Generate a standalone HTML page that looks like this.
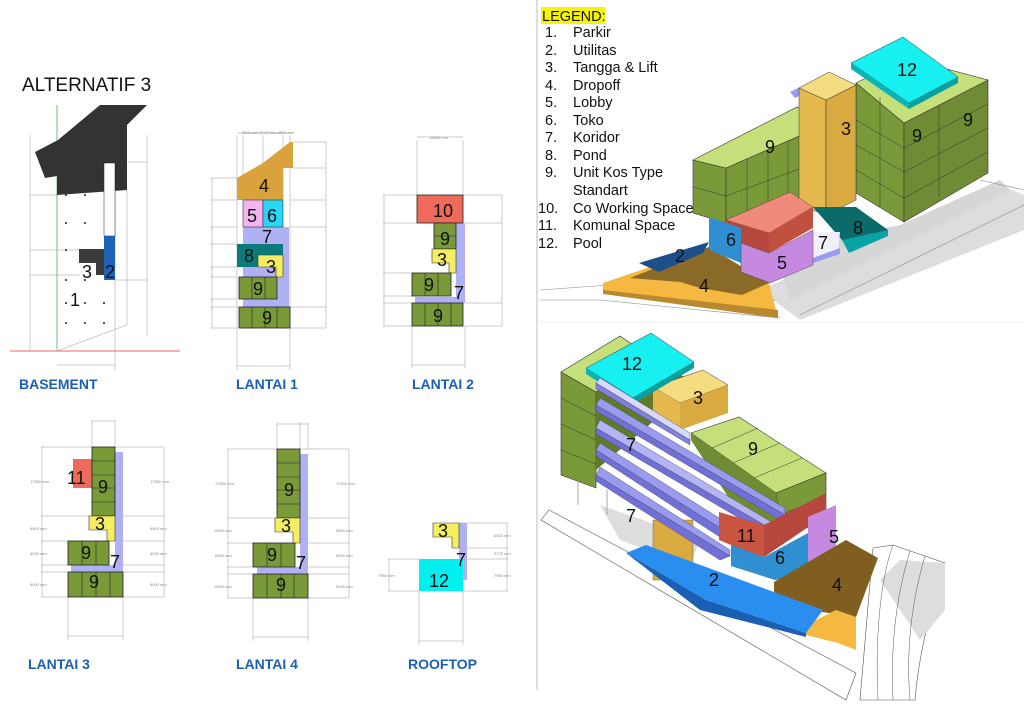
<!DOCTYPE html>
<html><head><meta charset="utf-8"><style>
html,body{margin:0;padding:0;background:#fff;}
svg{display:block;}
text{font-family:"Liberation Sans",Arial,sans-serif;}
.n{font-size:18px;fill:#111;}
.t{font-size:14px;font-weight:bold;fill:#1a5fb4;}
.d{font-size:4px;fill:#888;}
.lg{font-size:14.5px;fill:#111;}
</style></head><body>
<svg width="1024" height="707" viewBox="0 0 1024 707" xmlns="http://www.w3.org/2000/svg">
<rect width="1024" height="707" fill="#fff"/>
<text x="22" y="91" style="font-size:19px;fill:#111">ALTERNATIF 3</text>

<!-- BASEMENT -->
<g stroke="#999" stroke-width="0.5" fill="none">
<line x1="30" y1="135" x2="30" y2="350"/><line x1="147" y1="135" x2="147" y2="336"/>
<line x1="57" y1="365" x2="115" y2="365"/><line x1="115" y1="105" x2="115" y2="370"/>
<line x1="30" y1="195" x2="57" y2="195"/><line x1="30" y1="250" x2="80" y2="250"/><line x1="30" y1="275" x2="80" y2="275"/>
<line x1="115" y1="280" x2="147" y2="280"/><line x1="127" y1="162" x2="147" y2="162"/>
<line x1="57" y1="351" x2="127" y2="325"/><line x1="127" y1="190" x2="127" y2="325"/>
</g>
<line x1="57" y1="105" x2="57" y2="350" stroke="#4caf50" stroke-width="0.8"/>
<line x1="10" y1="351" x2="180" y2="351" stroke="#e53935" stroke-width="0.8"/>
<polygon points="35,152 58,140 100,105 147,105 127,125 127,190 57,195 57,176 45,178" fill="#333"/>
<rect x="104" y="163" width="11" height="73" fill="#fff" stroke="#222" stroke-width="0.5"/>
<rect x="104" y="236" width="11" height="44" fill="#1e63b8"/>
<rect x="79" y="249" width="25" height="14" fill="#3a3a3a"/><rect x="96" y="263" width="8" height="12" fill="#3a3a3a"/>
<g fill="#222"><circle cx="66" cy="195" r="1"/><circle cx="85" cy="195" r="1"/><circle cx="66" cy="223" r="1"/><circle cx="85" cy="223" r="1"/><circle cx="66" cy="250" r="1"/><circle cx="66" cy="280" r="1"/><circle cx="85" cy="280" r="1"/><circle cx="66" cy="303" r="1"/><circle cx="85" cy="303" r="1"/><circle cx="104" cy="303" r="1"/><circle cx="66" cy="323" r="1"/><circle cx="85" cy="323" r="1"/><circle cx="104" cy="323" r="1"/></g>
<text x="82" y="278" class="n">3</text><text x="105" y="278" class="n">2</text><text x="70" y="306" class="n">1</text>
<text x="19" y="389" class="t">BASEMENT</text>

<!-- LANTAI 1 -->
<g stroke="#999" stroke-width="0.5" fill="none">
<line x1="210" y1="178" x2="237" y2="178"/><line x1="210" y1="200" x2="237" y2="200"/><line x1="210" y1="227" x2="237" y2="227"/><line x1="210" y1="244" x2="237" y2="244"/><line x1="210" y1="267" x2="237" y2="267"/><line x1="210" y1="277" x2="237" y2="277"/><line x1="210" y1="299" x2="237" y2="299"/><line x1="210" y1="307" x2="237" y2="307"/><line x1="210" y1="328" x2="237" y2="328"/>
<line x1="212" y1="178" x2="212" y2="328"/><line x1="326" y1="142" x2="326" y2="328"/>
<line x1="293" y1="142" x2="326" y2="142"/><line x1="293" y1="168" x2="326" y2="168"/><line x1="290" y1="200" x2="326" y2="200"/><line x1="290" y1="227" x2="326" y2="227"/><line x1="290" y1="307" x2="326" y2="307"/><line x1="290" y1="328" x2="326" y2="328"/>
<line x1="237" y1="135" x2="237" y2="370"/><line x1="290" y1="135" x2="290" y2="370"/><line x1="243" y1="135" x2="243" y2="200"/><line x1="263" y1="135" x2="263" y2="200"/><line x1="283" y1="135" x2="283" y2="200"/>
<line x1="237" y1="366" x2="290" y2="366"/><line x1="237" y1="133" x2="290" y2="133"/>
</g>
<text x="242" y="134" class="d">3500 mm 6700 mm 8500 mm</text>
<polygon points="237,178 263,163 290,142 293,142 293,168 283,168 283,200 237,200" fill="#d9a23c"/>
<rect x="243" y="227" width="46" height="101" fill="#b0b0f4"/>
<rect x="243" y="200" width="20" height="27" fill="#f4b4ef" stroke="#333" stroke-width="0.6"/>
<rect x="263" y="200" width="20" height="27" fill="#27d7f5" stroke="#333" stroke-width="0.6"/>
<rect x="237" y="244" width="46" height="23" fill="#0a7a7a"/>
<path d="M258,255 H283 V277 H276 V267 H258 Z" fill="#f5ee62" stroke="#333" stroke-width="0.6"/>
<g fill="#7a9a3a" stroke="#222" stroke-width="0.8"><rect x="239" y="277" width="38" height="22"/><rect x="239" y="307" width="51" height="21"/></g>
<g stroke="#222" stroke-width="0.6"><line x1="252" y1="277" x2="252" y2="299"/><line x1="265" y1="277" x2="265" y2="299"/><line x1="252" y1="307" x2="252" y2="328"/><line x1="265" y1="307" x2="265" y2="328"/><line x1="277" y1="307" x2="277" y2="328"/></g>
<text x="259" y="192" class="n">4</text><text x="247" y="222" class="n">5</text><text x="267" y="222" class="n">6</text><text x="262" y="243" class="n">7</text><text x="244" y="262" class="n">8</text><text x="266" y="273" class="n">3</text><text x="253" y="295" class="n">9</text><text x="262" y="324" class="n">9</text>
<text x="236" y="389" class="t">LANTAI 1</text>

<!-- LANTAI 2 -->
<g stroke="#999" stroke-width="0.5" fill="none">
<line x1="383" y1="195" x2="417" y2="195"/><line x1="383" y1="223" x2="417" y2="223"/><line x1="383" y1="273" x2="412" y2="273"/><line x1="383" y1="296" x2="412" y2="296"/><line x1="383" y1="303" x2="412" y2="303"/><line x1="383" y1="326" x2="412" y2="326"/>
<line x1="384" y1="195" x2="384" y2="326"/><line x1="502" y1="195" x2="502" y2="326"/>
<line x1="463" y1="195" x2="502" y2="195"/><line x1="465" y1="223" x2="502" y2="223"/><line x1="465" y1="303" x2="502" y2="303"/><line x1="465" y1="326" x2="502" y2="326"/>
<line x1="417" y1="140" x2="417" y2="195"/><line x1="463" y1="140" x2="463" y2="195"/><line x1="417" y1="137" x2="463" y2="137"/>
<line x1="412" y1="326" x2="412" y2="368"/><line x1="465" y1="326" x2="465" y2="368"/><line x1="412" y1="365" x2="465" y2="365"/>
</g>
<text x="429" y="139" class="d">12500 mm</text>
<path d="M456,223 H465 V303 H415 V297 H456 Z" fill="#b0b0f4"/>
<rect x="417" y="195" width="46" height="28" fill="#ee6a5a" stroke="#222" stroke-width="0.8"/>
<rect x="434" y="223" width="22" height="26" fill="#7a9a3a" stroke="#222" stroke-width="0.8"/>
<line x1="434" y1="236" x2="456" y2="236" stroke="#222" stroke-width="0.6"/>
<path d="M432,249 H456 V273 H449 V263 H432 Z" fill="#f5ee62" stroke="#333" stroke-width="0.6"/>
<g fill="#7a9a3a" stroke="#222" stroke-width="0.8"><rect x="412" y="273" width="39" height="23"/><rect x="412" y="303" width="51" height="23"/></g>
<g stroke="#222" stroke-width="0.6"><line x1="425" y1="273" x2="425" y2="296"/><line x1="438" y1="273" x2="438" y2="296"/><line x1="425" y1="303" x2="425" y2="326"/><line x1="438" y1="303" x2="438" y2="326"/><line x1="451" y1="303" x2="451" y2="326"/></g>
<text x="433" y="217" class="n">10</text><text x="440" y="245" class="n">9</text><text x="437" y="266" class="n">3</text><text x="424" y="291" class="n">9</text><text x="454" y="299" class="n">7</text><text x="433" y="322" class="n">9</text>
<text x="412" y="389" class="t">LANTAI 2</text>

<!-- LANTAI 3 -->
<g stroke="#999" stroke-width="0.5" fill="none">
<line x1="41" y1="447" x2="92" y2="447"/><line x1="41" y1="516" x2="92" y2="516"/><line x1="41" y1="541" x2="68" y2="541"/><line x1="41" y1="565" x2="68" y2="565"/><line x1="41" y1="572" x2="68" y2="572"/><line x1="41" y1="597" x2="68" y2="597"/>
<line x1="42" y1="447" x2="42" y2="597"/><line x1="164" y1="447" x2="164" y2="597"/>
<line x1="115" y1="447" x2="164" y2="447"/><line x1="123" y1="516" x2="164" y2="516"/><line x1="123" y1="541" x2="164" y2="541"/><line x1="123" y1="565" x2="164" y2="565"/><line x1="123" y1="572" x2="164" y2="572"/><line x1="123" y1="597" x2="164" y2="597"/>
<line x1="92" y1="420" x2="92" y2="447"/><line x1="115" y1="420" x2="115" y2="447"/><line x1="92" y1="421" x2="115" y2="421"/>
<line x1="68" y1="597" x2="68" y2="640"/><line x1="123" y1="597" x2="123" y2="640"/><line x1="68" y1="636" x2="123" y2="636"/>
</g>
<text x="30" y="483" class="d">17500 mm</text><text x="150" y="483" class="d">17500 mm</text><text x="30" y="530" class="d">6500 mm</text><text x="150" y="530" class="d">6500 mm</text><text x="30" y="555" class="d">6000 mm</text><text x="150" y="555" class="d">6000 mm</text><text x="30" y="586" class="d">6000 mm</text><text x="150" y="586" class="d">6000 mm</text>
<path d="M115,452 H123 V572 H71 V565 H115 Z" fill="#b0b0f4"/>
<rect x="73" y="459" width="19" height="29" fill="#ee6a5a"/>
<rect x="92" y="447" width="23" height="69" fill="#7a9a3a" stroke="#222" stroke-width="0.8"/>
<g stroke="#222" stroke-width="0.6"><line x1="92" y1="461" x2="115" y2="461"/><line x1="92" y1="475" x2="115" y2="475"/><line x1="92" y1="488" x2="115" y2="488"/><line x1="92" y1="502" x2="115" y2="502"/></g>
<path d="M89,516 H115 V541 H107 V530 H89 Z" fill="#f5ee62" stroke="#333" stroke-width="0.6"/>
<g fill="#7a9a3a" stroke="#222" stroke-width="0.8"><rect x="68" y="541" width="41" height="24"/><rect x="68" y="572" width="55" height="25"/></g>
<g stroke="#222" stroke-width="0.6"><line x1="82" y1="541" x2="82" y2="565"/><line x1="96" y1="541" x2="96" y2="565"/><line x1="82" y1="572" x2="82" y2="597"/><line x1="96" y1="572" x2="96" y2="597"/><line x1="110" y1="572" x2="110" y2="597"/></g>
<text x="67" y="484" class="n">11</text><text x="98" y="493" class="n">9</text><text x="95" y="530" class="n">3</text><text x="81" y="559" class="n">9</text><text x="110" y="568" class="n">7</text><text x="89" y="588" class="n">9</text>
<text x="28" y="669" class="t">LANTAI 3</text>

<!-- LANTAI 4 -->
<g stroke="#999" stroke-width="0.5" fill="none">
<line x1="227" y1="449" x2="277" y2="449"/><line x1="227" y1="518" x2="275" y2="518"/><line x1="227" y1="543" x2="253" y2="543"/><line x1="227" y1="567" x2="253" y2="567"/><line x1="227" y1="574" x2="253" y2="574"/><line x1="227" y1="598" x2="253" y2="598"/>
<line x1="228" y1="449" x2="228" y2="598"/><line x1="349" y1="449" x2="349" y2="598"/>
<line x1="300" y1="449" x2="349" y2="449"/><line x1="308" y1="518" x2="349" y2="518"/><line x1="308" y1="543" x2="349" y2="543"/><line x1="308" y1="567" x2="349" y2="567"/><line x1="308" y1="574" x2="349" y2="574"/><line x1="308" y1="598" x2="349" y2="598"/>
<line x1="277" y1="422" x2="277" y2="449"/><line x1="300" y1="422" x2="300" y2="449"/><line x1="308" y1="422" x2="308" y2="449"/><line x1="277" y1="424" x2="308" y2="424"/>
<line x1="253" y1="598" x2="253" y2="641"/><line x1="308" y1="598" x2="308" y2="641"/><line x1="253" y1="637" x2="308" y2="637"/>
</g>
<text x="215" y="485" class="d">17500 mm</text><text x="336" y="485" class="d">17500 mm</text><text x="215" y="532" class="d">6500 mm</text><text x="336" y="532" class="d">6500 mm</text><text x="215" y="557" class="d">6000 mm</text><text x="336" y="557" class="d">6000 mm</text><text x="215" y="588" class="d">6000 mm</text><text x="336" y="588" class="d">6000 mm</text>
<path d="M300,454 H308 V574 H257 V567 H300 Z" fill="#b0b0f4"/>
<rect x="277" y="449" width="23" height="69" fill="#7a9a3a" stroke="#222" stroke-width="0.8"/>
<g stroke="#222" stroke-width="0.6"><line x1="277" y1="463" x2="300" y2="463"/><line x1="277" y1="477" x2="300" y2="477"/><line x1="277" y1="490" x2="300" y2="490"/><line x1="277" y1="504" x2="300" y2="504"/></g>
<path d="M275,518 H300 V543 H293 V532 H275 Z" fill="#f5ee62" stroke="#333" stroke-width="0.6"/>
<g fill="#7a9a3a" stroke="#222" stroke-width="0.8"><rect x="253" y="543" width="42" height="24"/><rect x="253" y="574" width="55" height="24"/></g>
<g stroke="#222" stroke-width="0.6"><line x1="267" y1="543" x2="267" y2="567"/><line x1="281" y1="543" x2="281" y2="567"/><line x1="267" y1="574" x2="267" y2="598"/><line x1="281" y1="574" x2="281" y2="598"/><line x1="294" y1="574" x2="294" y2="598"/></g>
<text x="284" y="496" class="n">9</text><text x="281" y="532" class="n">3</text><text x="267" y="561" class="n">9</text><text x="296" y="569" class="n">7</text><text x="276" y="591" class="n">9</text>
<text x="236" y="669" class="t">LANTAI 4</text>

<!-- ROOFTOP -->
<g stroke="#999" stroke-width="0.5" fill="none">
<line x1="459" y1="523" x2="508" y2="523"/><line x1="459" y1="548" x2="508" y2="548"/><line x1="463" y1="559" x2="508" y2="559"/><line x1="463" y1="591" x2="508" y2="591"/><line x1="507" y1="523" x2="507" y2="591"/>
<line x1="388" y1="559" x2="419" y2="559"/><line x1="388" y1="591" x2="419" y2="591"/><line x1="389" y1="559" x2="389" y2="591"/>
<line x1="419" y1="591" x2="419" y2="645"/><line x1="463" y1="591" x2="463" y2="645"/><line x1="419" y1="641" x2="463" y2="641"/>
</g>
<text x="494" y="537" class="d">6500 mm</text><text x="494" y="555" class="d">2775 mm</text><text x="494" y="577" class="d">7950 mm</text><text x="378" y="577" class="d">7950 mm</text>
<rect x="459" y="523" width="8" height="57" fill="#b0b0f4"/>
<path d="M433,523 H459 V548 H452 V537 H433 Z" fill="#f5ee62" stroke="#333" stroke-width="0.6"/>
<rect x="419" y="559" width="44" height="32" fill="#00f0f0"/>
<text x="438" y="537" class="n">3</text><text x="456" y="566" class="n">7</text><text x="429" y="587" class="n">12</text>
<text x="408" y="669" class="t">ROOFTOP</text>

<!-- divider -->
<line x1="537" y1="0" x2="537" y2="690" stroke="#bbb" stroke-width="1"/>
<line x1="537" y1="322" x2="1024" y2="322" stroke="#eee" stroke-width="1"/>

<!-- LEGEND -->
<rect x="541" y="7" width="64" height="17" fill="#f5f500"/>
<text x="542" y="21" class="lg">LEGEND:</text>
<g class="lg">
<text x="545" y="37" class="lg">1.</text><text x="573" y="37" class="lg">Parkir</text>
<text x="545" y="55" class="lg">2.</text><text x="573" y="55" class="lg">Utilitas</text>
<text x="545" y="72" class="lg">3.</text><text x="573" y="72" class="lg">Tangga &amp; Lift</text>
<text x="545" y="90" class="lg">4.</text><text x="573" y="90" class="lg">Dropoff</text>
<text x="545" y="107" class="lg">5.</text><text x="573" y="107" class="lg">Lobby</text>
<text x="545" y="125" class="lg">6.</text><text x="573" y="125" class="lg">Toko</text>
<text x="545" y="142" class="lg">7.</text><text x="573" y="142" class="lg">Koridor</text>
<text x="545" y="160" class="lg">8.</text><text x="573" y="160" class="lg">Pond</text>
<text x="545" y="177" class="lg">9.</text><text x="573" y="177" class="lg">Unit Kos Type</text>
<text x="573" y="195" class="lg">Standart</text>
<text x="538" y="213" class="lg">10.</text><text x="573" y="213" class="lg">Co Working Space</text>
<text x="538" y="230" class="lg">11.</text><text x="573" y="230" class="lg">Komunal Space</text>
<text x="538" y="248" class="lg">12.</text><text x="573" y="248" class="lg">Pool</text>
</g>

<!-- TOP ISO -->
<polygon points="760,290 1000,185 1024,195 1024,230 800,320" fill="#ddd"/>
<polygon points="775,250 900,225 1000,180 1010,190 790,300" fill="#d6d6d6"/>
<g stroke="#888" stroke-width="0.6" fill="none"><path d="M540,290 L610,285 L775,300"/><path d="M540,300 L600,300 L780,318"/><path d="M800,315 L1024,205"/><path d="M980,180 L1024,190"/></g>
<polygon points="603,283 709,247 769,283 778,318 603,293" fill="#f5b942"/>
<polygon points="630,278 709,247 769,283 742,295 700,288 680,282" fill="#8a6a28"/>
<polygon points="603,290 778,310 778,318 603,294" fill="#b8892e"/>
<polygon points="639,263 709,242 703,253 659,272" fill="#1d4f8a"/>
<polygon points="856,83 904,123 904,222 856,193" fill="#7a9a3a" stroke="#333" stroke-width="0.6"/>
<polygon points="904,123 988,80 988,173 904,222" fill="#6f8c34" stroke="#333" stroke-width="0.6"/>
<polygon points="856,83 905,58 988,80 904,123" fill="#c5e07a" stroke="#333" stroke-width="0.6"/>
<g stroke="#333" stroke-width="0.5"><line x1="856" y1="120" x2="904" y2="148"/><line x1="856" y1="145" x2="904" y2="172"/><line x1="856" y1="170" x2="904" y2="198"/><line x1="904" y1="148" x2="988" y2="104"/><line x1="904" y1="172" x2="988" y2="128"/><line x1="904" y1="198" x2="988" y2="152"/><line x1="880" y1="97" x2="880" y2="207"/><line x1="939" y1="105" x2="939" y2="197"/></g>
<polygon points="851,63 903,37 958,77 909,103" fill="#16f0f0" stroke="#333" stroke-width="0.5"/>
<polygon points="851,63 909,103 909,109 851,69" fill="#0bb5b5"/><polygon points="909,103 958,77 958,83 909,109" fill="#0aa0a0"/>
<polygon points="790,92 810,82 815,88 795,98" fill="#9a9aef"/>
<polygon points="693,160 726,168 726,223 693,213" fill="#7a9a3a" stroke="#333" stroke-width="0.6"/>
<polygon points="726,168 829,123 829,192 726,223" fill="#7a9a3a" stroke="#333" stroke-width="0.6"/>
<polygon points="693,160 797,107 829,123 726,168" fill="#c5e07a" stroke="#333" stroke-width="0.6"/>
<g stroke="#333" stroke-width="0.5"><line x1="693" y1="187" x2="726" y2="196"/><line x1="726" y1="196" x2="829" y2="158"/><line x1="747" y1="159" x2="747" y2="216"/><line x1="768" y1="150" x2="768" y2="209"/><line x1="788" y1="141" x2="788" y2="203"/><line x1="808" y1="132" x2="808" y2="198"/></g>
<polygon points="799,88 826,100 826,215 799,205" fill="#e6b94e" stroke="#333" stroke-width="0.5"/>
<polygon points="826,100 856,85 856,200 826,215" fill="#d8aa40" stroke="#333" stroke-width="0.5"/>
<polygon points="799,88 829,72 856,85 826,100" fill="#f5dc80" stroke="#333" stroke-width="0.5"/>
<polygon points="813,207 856,207 888,230 849,247 842,240" fill="#0b6b6b"/>
<polygon points="842,240 888,230 888,236 849,253" fill="#0aa3a3"/>
<polygon points="813,232 840,232 838,252 813,258" fill="#f0f0fa"/>
<polygon points="813,258 840,248 840,254 813,263" fill="#9a9aef"/>
<polygon points="726,220 790,192 813,207 769,233" fill="#f08a7a" stroke="#333" stroke-width="0.4"/>
<polygon points="726,220 769,233 769,253 741,243 726,236" fill="#b5473c"/>
<polygon points="769,233 813,207 813,228 769,253" fill="#c2503f"/>
<polygon points="709,217 741,228 741,263 709,250" fill="#2f8fd0"/>
<polygon points="741,243 769,253 813,230 813,265 770,283 741,272" fill="#c58ae0" stroke="#333" stroke-width="0.4"/>
<g><text x="897" y="76" class="n">12</text><text x="841" y="135" class="n">3</text><text x="912" y="142" class="n">9</text><text x="963" y="126" class="n">9</text><text x="765" y="153" class="n">9</text><text x="726" y="246" class="n">6</text><text x="777" y="269" class="n">5</text><text x="818" y="249" class="n">7</text><text x="853" y="234" class="n">8</text><text x="675" y="262" class="n">2</text><text x="699" y="292" class="n">4</text></g>

<!-- BOTTOM ISO -->
<polygon points="541,520 549,510 856,673 846,700" fill="#fff" stroke="#555" stroke-width="0.6"/>
<polygon points="600,505 700,540 690,565 620,540" fill="#ddd"/>
<path d="M873,548 L893,545 L945,563 C935,600 920,640 915,700 L860,700 Z" fill="#fff" stroke="#555" stroke-width="0.6"/>
<polygon points="880,580 900,560 945,563 945,610 920,640" fill="#ddd"/>
<g stroke="#555" stroke-width="0.5" fill="none"><path d="M893,545 C880,580 875,640 878,700"/><path d="M910,551 C898,590 890,640 893,700"/><path d="M925,556 C915,590 905,640 910,700"/></g>
<polygon points="561,372 596,392 596,488 561,475" fill="#7a9a3a" stroke="#333" stroke-width="0.6"/>
<polygon points="596,392 655,360 700,386 655,420 596,470" fill="#5f7a2a"/>
<polygon points="561,372 620,336 655,360 596,392" fill="#c5e07a" stroke="#333" stroke-width="0.6"/>
<g stroke="#333" stroke-width="0.5"><line x1="561" y1="398" x2="596" y2="416"/><line x1="561" y1="424" x2="596" y2="440"/><line x1="561" y1="450" x2="596" y2="464"/></g>
<line x1="578" y1="482" x2="578" y2="505" stroke="#aaa"/><line x1="607" y1="490" x2="607" y2="515" stroke="#aaa"/>
<rect x="653" y="520" width="40" height="60" fill="#d8aa40" stroke="#555" stroke-width="0.4"/>
<polygon points="691,433 739,417 826,473 776,493" fill="#c5e07a" stroke="#333" stroke-width="0.6"/>
<polygon points="776,493 826,473 826,520 784,537" fill="#7a9a3a" stroke="#333" stroke-width="0.6"/>
<polygon points="691,433 776,493 784,537 740,515 691,440" fill="#6f8c34"/>
<g stroke="#333" stroke-width="0.5"><line x1="712" y1="448" x2="758" y2="428"/><line x1="733" y1="463" x2="780" y2="443"/><line x1="754" y1="478" x2="802" y2="458"/><line x1="780" y1="515" x2="826" y2="496"/></g>
<polygon points="653,387 703,370 728,385 680,403" fill="#f5dc80" stroke="#333" stroke-width="0.5"/>
<polygon points="653,387 680,403 680,430 653,415" fill="#e6b94e"/>
<polygon points="680,403 728,385 728,413 680,430" fill="#d8aa40"/>
<polygon points="586,368 651,333 694,362 633,398" fill="#16f0f0" stroke="#333" stroke-width="0.5"/>
<polygon points="586,368 633,398 633,404 586,374" fill="#0bb5b5"/><polygon points="633,398 694,362 694,368 633,404" fill="#0aa0a0"/>
<g stroke="#444" stroke-width="0.4">
<polygon points="596,383 600,378 690,433 690,440" fill="#d8d8fa"/><polygon points="596,383 690,440 690,445 596,389" fill="#8080e0"/>
<polygon points="596,405 600,398 785,508 785,515" fill="#9a9aef"/><polygon points="596,405 785,515 780,520 596,411" fill="#7070d8"/>
<polygon points="596,428 600,420 785,530 785,537" fill="#b4b4f5"/><polygon points="596,428 785,537 780,542 596,434" fill="#7070d8"/>
<polygon points="596,450 600,443 770,550 760,553" fill="#9a9aef"/><polygon points="596,450 760,553 752,558 596,456" fill="#7070d8"/>
<polygon points="596,475 600,467 730,550 730,556" fill="#9a9aef"/><polygon points="596,475 730,556 720,560 596,481" fill="#7070d8"/>
</g>
<polygon points="719,512 764,525 764,557 731,545 719,540" fill="#c8553f"/>
<polygon points="764,525 826,493 826,515 764,557" fill="#b5473c"/>
<polygon points="731,545 764,557 808,533 808,577 775,580 731,566" fill="#2f8fd0"/>
<polygon points="808,517 836,505 836,555 808,577" fill="#c58ae0"/>
<polygon points="774,582 846,540 878,558 856,617 809,610 774,592" fill="#7f5e20"/>
<polygon points="806,625 836,610 856,617 856,650 838,643 806,635" fill="#f5b942"/>
<polygon points="626,553 646,545 823,610 806,633 706,600" fill="#2a8ef0"/>
<polygon points="626,553 706,600 806,633 806,637 700,610" fill="#1a5fb4"/>
<g><text x="622" y="370" class="n">12</text><text x="693" y="404" class="n">3</text><text x="626" y="451" class="n">7</text><text x="748" y="455" class="n">9</text><text x="626" y="522" class="n">7</text><text x="737" y="542" class="n">11</text><text x="829" y="543" class="n">5</text><text x="775" y="564" class="n">6</text><text x="709" y="586" class="n">2</text><text x="832" y="591" class="n">4</text></g>
</svg>
</body></html>
